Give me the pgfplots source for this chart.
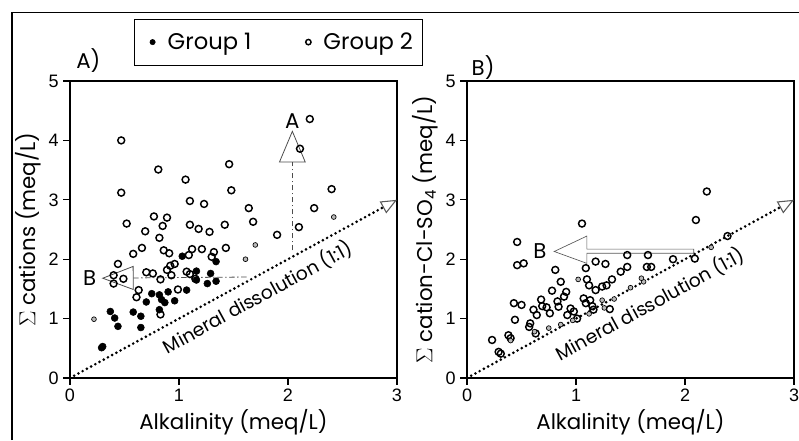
\documentclass[border=0pt]{standalone}
\usepackage{fontspec}
\setmainfont{Poppins}
\newfontfamily\tickfont{Liberation Sans}
\usepackage{pgfplots}
\pgfplotsset{compat=1.18}
\usetikzlibrary{arrows.meta}

\pgfplotsset{
  panel/.style={
    scale only axis, width=245.25pt, height=222.75pt,
    xmin=0, xmax=3, ymin=0, ymax=5,
    xtick={0,1,2,3}, ytick={0,1,2,3,4,5},
    axis line style={line width=1.5pt},
    tick style={line width=1pt, black},
    tick align=outside, tick pos=left, major tick length=5pt,
    /pgf/number format/assume math mode=true,
    tick label style={font=\tickfont\fontsize{13.5}{14}\selectfont},
    label style={font=\fontsize{16}{18}\selectfont},
    xlabel={Alkalinity (meq/L)},
    xlabel style={at={(axis description cs:0.5,-0.150)}, anchor=center},
    ylabel style={at={(axis description cs:-0.128,0.5)}, anchor=center},
    clip=false,
  },
  g1/.style={only marks, mark=*, mark size=2.6pt, mark options={fill=black, draw=black}},
  g2/.style={only marks, mark=o, mark size=2.6pt, mark options={line width=1.1pt, draw=black}},
  gs/.style={only marks, mark=*, mark size=1.8pt, mark options={fill=gray!55, draw=black, line width=0.5pt}},
  oneone/.style={black, line width=2.2pt, line cap=round, dash pattern=on 0pt off 3.6pt,
    -{Triangle[open, length=12pt, width=10pt, line width=0.8pt, color=gray!70!black]}},
}

\begin{document}
\begin{tikzpicture}
\useasboundingbox (0,0) rectangle (599.25pt,-330pt);
\draw[line width=0.8pt] (9pt,-330pt) -- (9pt,-9.5pt) -- (599.25pt,-9.5pt);

% panel A
\begin{axis}[panel, at={(52.5pt,-283.5pt)},
  ylabel={$\Sigma$ cations (meq/L)},
  legend style={at={(0.637,1.131)}, anchor=center, legend columns=2, draw=black,
    font=\fontsize{17}{19}\selectfont, inner xsep=5pt, inner ysep=8pt,
    /tikz/every even column/.append style={column sep=32pt}},
  legend cell align=left,
  legend image code/.code={\path (0cm,0cm) (0.62cm,0cm);
    \draw[#1, mark size=2pt] plot coordinates {(0.3cm,0cm)};},
]
\addplot[g1] coordinates {
 (1.03,2.05) (1.34,1.96) (1.16,1.80) (1.29,1.76) (1.16,1.65) (1.26,1.59)
 (1.34,1.63) (1.07,1.48) (0.90,1.45) (0.75,1.42) (0.82,1.40) (0.70,1.28)
 (0.84,1.32) (0.87,1.27) (0.96,1.30) (0.82,1.15) (0.37,1.12) (0.41,1.01)
 (0.44,0.87) (0.58,1.11) (0.65,1.04) (0.65,0.85) (0.30,0.53) (0.29,0.51)
};
\addlegendentry{Group 1}
\addplot[g2] coordinates {
 (0.47,4.00) (0.81,3.51) (1.46,3.60) (1.06,3.34) (0.47,3.12) (1.48,3.16)
 (1.10,2.98) (1.23,2.93) (0.77,2.72) (0.89,2.70) (0.52,2.60) (0.85,2.56)
 (1.10,2.58) (1.18,2.51) (1.28,2.46) (1.42,2.58) (0.69,2.47) (0.82,2.36)
 (0.66,2.19) (0.58,2.09) (0.86,2.15) (0.91,2.10) (1.12,2.17) (1.21,2.17)
 (1.32,2.12) (1.43,2.19) (1.09,2.07) (1.30,2.04) (2.20,4.36) (2.11,3.86)
 (2.40,3.18) (1.64,2.86) (1.68,2.63) (2.24,2.86) (2.10,2.54) (1.90,2.41)
 (0.44,1.92) (0.40,1.73) (0.40,1.59) (0.49,1.67) (0.70,1.78) (0.76,1.76)
 (0.83,1.66) (0.89,1.82) (0.92,1.89) (0.96,1.92) (0.93,1.73) (1.07,1.79)
 (1.10,1.75) (1.15,1.67) (0.63,1.48) (0.61,1.36) (0.99,1.49) (0.83,1.07)
};
\addlegendentry{Group 2}
\addplot[gs, forget plot] coordinates {(0.22,0.99) (1.61,2.00) (1.70,2.24) (2.42,2.71)};
\addplot[oneone, forget plot] coordinates {(0,0) (3,3)};
\draw[gray!60!black, line width=0.6pt, dash pattern=on 4pt off 2pt on 1pt off 2pt,
  -{Triangle[open, length=24pt, width=20pt, line width=0.6pt]}]
  (axis cs:2.04,2.15) -- (axis cs:2.04,4.17);
\draw[gray!60!black, line width=0.6pt, dash pattern=on 4pt off 2pt on 1pt off 2pt,
  -{Triangle[open, length=24pt, width=18pt, line width=0.6pt]}]
  (axis cs:1.62,1.70) -- (axis cs:0.29,1.68);
\node[font=\fontsize{16}{18}\selectfont] at (axis cs:2.04,4.32) {A};
\node[font=\fontsize{16}{18}\selectfont] at (axis cs:0.18,1.68) {B};
\node[rotate=28.6, font=\fontsize{14}{16}\selectfont] at (axis cs:1.72,1.36) {Mineral dissolution (1:1)};
\node[anchor=west, font=\fontsize{16}{18}\selectfont] at (axis description cs:0.005,1.07) {A)};
\end{axis}

% panel B
\begin{axis}[panel, at={(350.25pt,-283.5pt)},
  ylabel={$\Sigma$ cation-Cl-SO\textsubscript{4} (meq/L)},
]
\addplot[g2] coordinates {
 (1.055,2.60) (0.46,2.29) (0.46,1.90) (0.52,1.93) (0.81,1.82) (1.09,1.85)
 (1.18,1.96) (1.27,1.92) (1.47,2.07) (1.47,1.87) (1.41,1.79) (1.33,1.66)
 (1.28,1.56) (1.24,1.54) (1.18,1.48) (1.10,1.66) (1.12,1.56) (0.86,1.62)
 (0.78,1.47) (0.91,1.45) (0.89,1.37) (0.83,1.29) (0.68,1.32) (0.69,1.21)
 (0.73,1.19) (0.61,1.15) (0.64,1.06) (0.76,1.09) (0.84,1.20) (0.95,1.17)
 (0.98,1.12) (0.92,1.06) (1.01,1.00) (1.07,1.34) (1.13,1.31) (1.09,1.26)
 (1.15,1.21) (1.16,1.15) (1.31,1.16) (0.43,1.26) (0.50,1.23) (0.44,0.98)
 (0.58,0.92) (0.57,0.86) (0.63,0.75) (0.38,0.72) (0.40,0.67) (0.23,0.64)
 (0.29,0.44) (0.31,0.41) (2.20,3.14) (2.10,2.66) (2.39,2.39) (2.09,2.01)
 (1.89,2.00) (1.66,2.07) (1.65,1.87) (1.69,1.87)
};
\addplot[gs] coordinates {
 (0.40,0.63) (0.62,0.78) (0.75,0.84) (0.86,0.90) (0.97,0.97) (1.12,1.08)
 (1.26,1.18) (1.35,1.33) (1.50,1.52) (1.62,1.62) (2.24,2.20) (1.02,1.66)
 (1.24,1.31) (1.60,1.68)
};
\addplot[oneone] coordinates {(0,0) (3,3)};
\draw[gray!70!black, line width=0.5pt] (axis cs:0.80,2.13) -- (axis cs:1.10,2.39)
  -- (axis cs:1.10,2.17) -- (axis cs:2.08,2.17) -- (axis cs:2.08,2.10)
  -- (axis cs:1.10,2.10) -- (axis cs:1.10,1.93) -- cycle;
\node[font=\fontsize{16}{18}\selectfont] at (axis cs:0.67,2.13) {B};
\node[rotate=28.6, font=\fontsize{14}{16}\selectfont] at (axis cs:1.68,1.24) {Mineral dissolution (1:1)};
\node[anchor=west, font=\fontsize{16}{18}\selectfont] at (axis description cs:0.0,1.045) {B)};
\end{axis}
\end{tikzpicture}
\end{document}
